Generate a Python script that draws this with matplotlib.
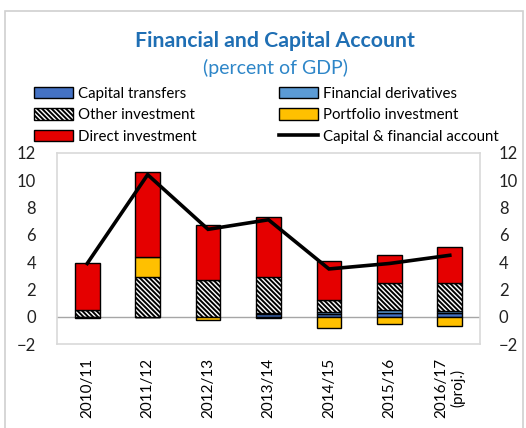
import matplotlib
matplotlib.use("Agg")
import matplotlib.pyplot as plt
import numpy as np
from matplotlib.patches import Patch, Rectangle
from matplotlib.lines import Line2D

plt.rcParams['font.family'] = ['Lato', 'DejaVu Sans']
plt.rcParams['hatch.linewidth'] = 1.4

categories = ["2010/11", "2011/12", "2012/13", "2013/14", "2014/15", "2015/16", "2016/17\n(proj.)"]
capital_transfers = [0.0, 0.0, 0.0, 0.2, 0.2, 0.3, 0.3]
financial_derivatives = [0.0, 0.0, 0.0, 0.1, 0.15, 0.2, 0.15]
other_investment = [0.5, 2.9, 2.7, 2.6, 0.85, 2.0, 2.05]
portfolio_investment = [-0.1, 1.5, -0.25, -0.1, -0.8, -0.55, -0.65]
direct_investment = [3.45, 6.2, 4.0, 4.4, 2.9, 2.0, 2.6]
cap_fin_account = [3.9, 10.4, 6.4, 7.1, 3.5, 3.9, 4.5]
yticks = [-2, 0, 2, 4, 6, 8, 10, 12]

c_ct = "#4472C4"
c_fd = "#5B9BD5"
c_po = "#FFC000"
c_di = "#E50000"
HATCH = "\\" * 7

fig = plt.figure(figsize=(5.26, 4.28), dpi=100)
fig.patch.set_facecolor("white")
ax = fig.add_axes([57 / 526, 0.196, 423 / 526, 0.447])

x = np.arange(len(categories))
w = 0.41
ek = dict(edgecolor="black", linewidth=1.0, zorder=3)

pos_base = np.zeros(len(x))
neg_base = np.zeros(len(x))

def stack(vals, **kw):
    global pos_base, neg_base
    vals = np.array(vals, dtype=float)
    bottoms = np.where(vals >= 0, pos_base, neg_base)
    ax.bar(x, vals, w, bottom=bottoms, **kw)
    pos_base = pos_base + np.where(vals > 0, vals, 0)
    neg_base = neg_base + np.where(vals < 0, vals, 0)

stack(capital_transfers, color=c_ct, **ek)
stack(financial_derivatives, color=c_fd, **ek)
stack(other_investment, facecolor="white", hatch=HATCH, **ek)
stack(portfolio_investment, color=c_po, **ek)
stack(direct_investment, color=c_di, **ek)

ax.axhline(0, color="#A6A6A6", linewidth=1.0, zorder=2)
ax.plot(x, cap_fin_account, color="black", linewidth=2.6, zorder=4, solid_joinstyle="miter")

ax.set_xlim(-0.5, len(x) - 0.5)
ax.set_ylim(-2, 12)
ax.set_yticks(yticks)
ax.set_xticks(x)
ax.set_xticklabels(categories, rotation=90, fontsize=11, multialignment="center")
ax.tick_params(axis="x", length=0, pad=10)
ax.tick_params(axis="y", length=0, labelsize=12, pad=15, labelcolor="#222222")
for s in ax.spines.values():
    s.set_color("#D9D9D9")
    s.set_linewidth(1.2)

ax2 = ax.twinx()
ax2.set_ylim(ax.get_ylim())
ax2.set_yticks(yticks)
ax2.tick_params(axis="y", length=0, labelsize=12, pad=13.5, labelcolor="#222222")
for s in ax2.spines.values():
    s.set_visible(False)

fig.text(0.523, 0.905, "Financial and Capital Account", ha="center", va="center",
         fontsize=15.3, fontweight="bold", color="#1F6FB4")
fig.text(0.523, 0.842, "(percent of GDP)", ha="center", va="center",
         fontsize=14, color="#2E86C8")

handles = [
    Patch(facecolor=c_ct, edgecolor="black", label="Capital transfers"),
    Patch(facecolor="white", edgecolor="black", hatch=HATCH, label="Other investment"),
    Patch(facecolor=c_di, edgecolor="black", label="Direct investment"),
    Patch(facecolor=c_fd, edgecolor="black", label="Financial derivatives"),
    Patch(facecolor=c_po, edgecolor="black", label="Portfolio investment"),
    Line2D([0], [0], color="black", linewidth=2.6, label="Capital & financial account"),
]
fig.legend(handles=handles, ncol=2, loc="upper left", bbox_to_anchor=(0.05, 0.815),
           frameon=False, fontsize=10.8, handlelength=2.6, handleheight=0.8,
           handletextpad=0.35, columnspacing=5.5, labelspacing=0.5, borderpad=0)

fig.add_artist(Rectangle((5 / 526, -0.01), 518 / 526, 1 - 11 / 428 + 0.01,
                         transform=fig.transFigure, fill=False,
                         edgecolor="#D0D0D0", linewidth=1.2))

fig.savefig("out.png", dpi=100)
